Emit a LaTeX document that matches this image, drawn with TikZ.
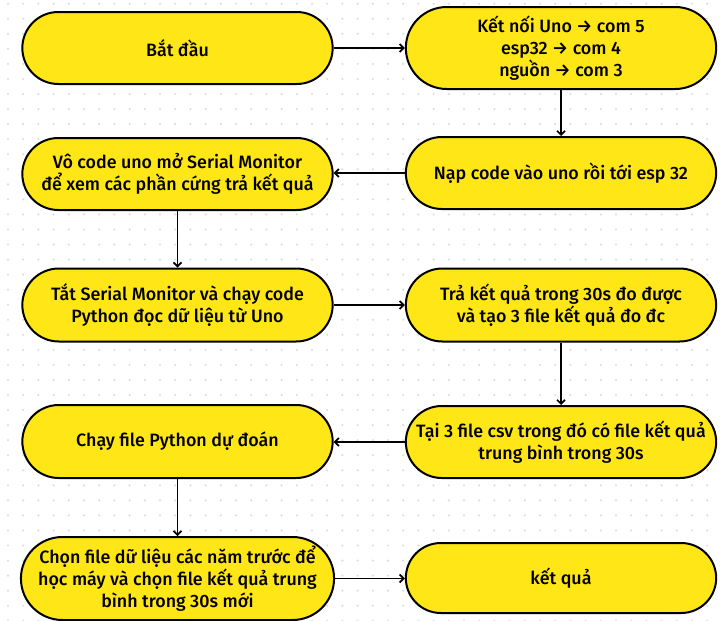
\documentclass[tikz,border=0pt]{standalone}
\usepackage{fontspec}
\setmainfont{Fira Sans Medium}
\usepackage{tikz}
\usetikzlibrary{shapes.misc,arrows.meta}

\definecolor{boxyellow}{RGB}{255,230,22}
\definecolor{dotgray}{RGB}{218,221,226}

\tikzset{
	stepnode/.style={rounded rectangle, draw=black, line width=1.5pt, fill=boxyellow,
		minimum width=234.75pt, minimum height=54pt, align=center, inner sep=1pt,
		font=\fontsize{13.4pt}{16.5pt}\selectfont},
	flow/.style={-{Straight Barb[length=3pt,width=6pt]}, line width=1.3pt, black}
}

\begin{document}
\begin{tikzpicture}[x=0.75pt,y=0.75pt,yscale=-1]
	\useasboundingbox (0,0) rectangle (721,621);
	%Background dots
	\foreach \i in {0,...,47} {
		\foreach \j in {0,...,41} {
			\fill [dotgray] (8+15.2*\i,3.7+15.05*\j) circle (1.2);
		}
	}
	
	%Shape: Rounded Rectangle [left column]
	\node [stepnode] (start) at (177.5,48) {Bắt đầu};
	\node [stepnode] (monitor) at (177.5,174) {Vô code uno mở Serial Monitor\\để xem các phần cứng trả kết quả};
	\node [stepnode, minimum height=54.75pt] (python) at (177.5,305) {Tắt Serial Monitor và chạy code\\Python đọc dữ liệu từ Uno};
	\node [stepnode, minimum height=54.75pt] (predict) at (177.5,441.5) {Chạy file Python dự đoán};
	\node [stepnode, minimum height=62.25pt] (choose) at (177.5,578.5) {Chọn file dữ liệu các năm trước để\\học máy và chọn file kết quả trung\\bình trong 30s mới};
	
	%Shape: Rounded Rectangle [right column]
	\node [stepnode, minimum height=61.5pt] (connect) at (561,48) {Kết nối Uno → com 5\\esp32 → com 4\\nguồn → com 3};
	\node [stepnode] (upload) at (561,173) {Nạp code vào uno rồi tới esp 32};
	\node [stepnode, minimum height=54.75pt] (result) at (561,305) {Trả kết quả trong 30s đo được\\và tạo 3 file kết quả đo đc};
	\node [stepnode] (csv) at (561,442) {Tại 3 file csv trong đó có file kết quả\\trung bình trong 30s};
	\node [stepnode, minimum height=52.5pt] (final) at (561,578) {kết quả};
	
	%Straight Lines
	\draw [flow] (start.east) -- (connect.west);
	\draw [flow] (connect.south) -- (upload.north);
	\draw [flow] (upload.west) -- (upload.west -| monitor.east);
	\draw [flow] (monitor.south) -- (python.north);
	\draw [flow] (python.east) -- (result.west);
	\draw [flow] (result.south) -- (csv.north);
	\draw [flow] (csv.west) -- (csv.west -| predict.east);
	\draw [flow] (predict.south) -- (choose.north);
	\draw [flow] (choose.east) -- (choose.east -| final.west);
	
\end{tikzpicture}
\end{document}
